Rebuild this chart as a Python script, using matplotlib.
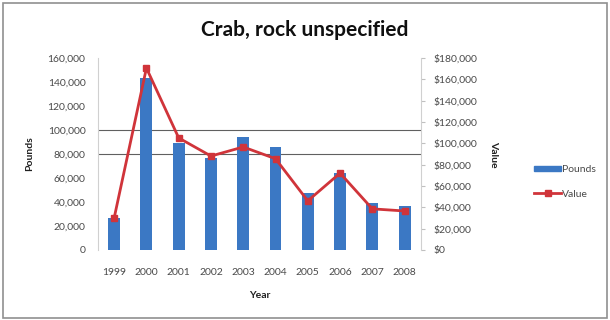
import matplotlib.pyplot as plt
from matplotlib.patches import Rectangle
from matplotlib.lines import Line2D
from matplotlib.ticker import FuncFormatter

plt.rcParams['font.family'] = ['Lato', 'DejaVu Sans']

years = ['1999', '2000', '2001', '2002', '2003', '2004', '2005', '2006', '2007', '2008']
pounds = [27000, 143000, 89000, 77000, 94000, 86000, 47500, 64000, 39000, 36500]
value = [30000, 170500, 105000, 88000, 96500, 85500, 46000, 72000, 38500, 36500]

bar_color = '#3b78c4'
line_color = '#d0343a'
text_color = '#4a4a4a'

fig = plt.figure(figsize=(6.1, 3.2), dpi=100)
fig.patches.append(Rectangle((0.005, 0.006), 0.99, 0.985, transform=fig.transFigure,
                             fill=False, edgecolor='#909090', linewidth=1.2))

ax = fig.add_axes([0.1607, 0.219, 0.529, 0.6])
x = range(len(years))
ax.bar(x, pounds, width=0.37, color=bar_color, zorder=2)
ax.set_xlim(-0.5, len(years) - 0.5)
ax.set_ylim(0, 160000)
ax.set_yticks(range(0, 160001, 20000))
ax.yaxis.set_major_formatter(FuncFormatter(lambda v, p: '{:,.0f}'.format(v)))
ax.set_xticks(list(x))
ax.set_xticklabels(years)
for yv in (80000, 100000):
    ax.axhline(yv, color='#606060', linewidth=0.8, zorder=1)

ax2 = ax.twinx()
ax2.plot(x, value, color=line_color, linewidth=2, marker='s', markersize=5, zorder=3)
ax2.set_ylim(0, 180000)
ax2.set_yticks(range(0, 180001, 20000))
ax2.yaxis.set_major_formatter(FuncFormatter(lambda v, p: '${:,.0f}'.format(v)))

for a in (ax, ax2):
    for side in a.spines:
        a.spines[side].set_visible(False)
    a.tick_params(labelsize=7.5, colors=text_color, length=0, pad=9)
ax.spines['left'].set_visible(True)
ax.spines['left'].set_color('#d0d0d0')
ax2.spines['right'].set_visible(True)
ax2.spines['right'].set_color('#d0d0d0')
ax2.tick_params(axis='y', length=3, color='#c0c0c0', pad=6)
ax.tick_params(axis='x', pad=13)

ax.set_ylabel('Pounds', fontsize=7.5, fontweight='bold', color='#202020', labelpad=10)
ax2.set_ylabel('Value', fontsize=7.5, fontweight='bold', color='#202020', rotation=270, labelpad=15)
ax.set_xlabel('Year', fontsize=7.5, fontweight='bold', color='#202020', labelpad=10)
fig.text(0.5, 0.905, 'Crab, rock unspecified', ha='center', va='center',
         fontsize=15, fontweight='bold', color='#101010')

handles = [Rectangle((0, 0), 1, 1, color=bar_color),
           Line2D([], [], color=line_color, linewidth=2, marker='s', markersize=5)]
fig.legend(handles, ['Pounds', 'Value'], loc='center left', bbox_to_anchor=(0.86, 0.432),
           frameon=False, fontsize=7.5, handlelength=2.6, handleheight=0.35,
           labelspacing=1.5, handletextpad=0.1, labelcolor=text_color)

fig.savefig('out.png', dpi=100)
